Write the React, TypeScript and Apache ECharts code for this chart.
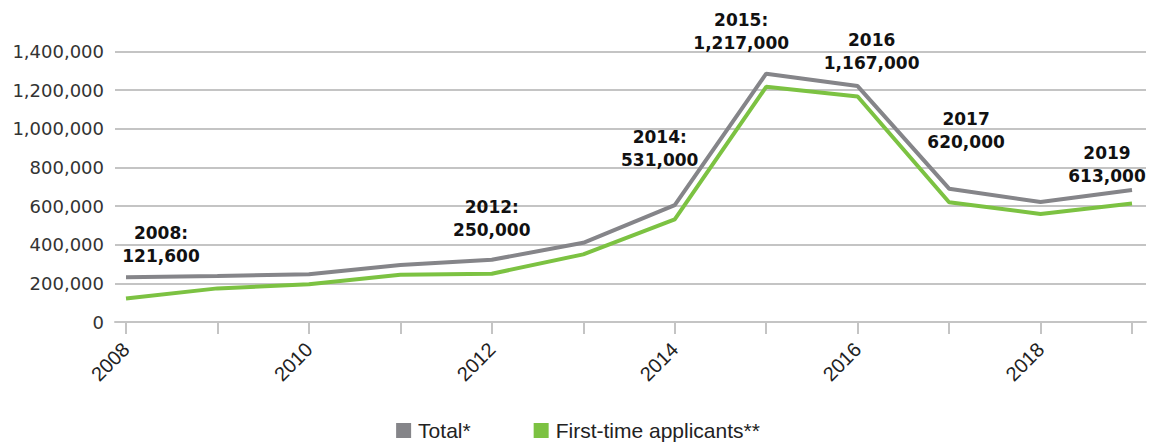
import React, { useEffect, useRef } from "react";
import * as echarts from "echarts";

const years = [2008, 2009, 2010, 2011, 2012, 2013, 2014, 2015, 2016, 2017, 2018, 2019];
const totalValues = [232000, 238000, 247000, 295000, 322000, 410000, 605000, 1285000, 1221000, 690000, 621000, 683000];
const firstTimeValues = [121600, 174000, 195000, 245000, 250000, 350000, 531000, 1217000, 1167000, 620000, 559000, 613000];
const yTicks = [0, 200000, 400000, 600000, 800000, 1000000, 1200000, 1400000];
const xTickYears = years;
const xLabelYears = [2008, 2010, 2012, 2014, 2016, 2018];
const annotationYears = [2008, 2012, 2014, 2015, 2016, 2017, 2019];
const annotationTitles = ["2008:", "2012:", "2014:", "2015:", "2016", "2017", "2019"];
// label placement offsets (layout only)
const annotationOffsets: Record<number, [number, number]> = {
  2008: [35, -54],
  2012: [0, -55],
  2014: [-15, -71],
  2015: [-25, -55],
  2016: [14, -45],
  2017: [17, -72],
  2019: [-25, -39],
};

const fmt = (v: number) => v.toLocaleString("en-US");

export default function App() {
  const ref = useRef<HTMLDivElement>(null);
  useEffect(() => {
    document.body.style.margin = "0";
    const chart = echarts.init(ref.current!, null, { renderer: "svg" });
    const greenData = years.map((y, i) => {
      const idx = annotationYears.indexOf(y);
      const item: any = { value: [y, firstTimeValues[i]] };
      if (idx >= 0) {
        item.label = {
          show: true,
          position: "inside",
          offset: annotationOffsets[y],
          formatter: annotationTitles[idx] + "\n" + fmt(firstTimeValues[i]),
        };
      }
      return item;
    });
    chart.setOption({
      animation: false,
      grid: { left: 115, right: 10, top: 51.5, bottom: 121, containLabel: false },
      legend: {
        bottom: -3,
        left: "center",
        icon: "rect",
        itemWidth: 15,
        itemHeight: 15,
        itemGap: 63,
        textStyle: { fontFamily: "Liberation Sans", fontSize: 21, color: "#222", padding: [0, 0, 0, 2] },
        data: ["Total*", "First-time applicants**"],
      },
      xAxis: {
        type: "value",
        min: 2008 - 11 / 91.46,
        max: 2019 + 14 / 91.46,
        splitLine: { show: false },
        axisLine: { show: true, lineStyle: { color: "#c4c4c4", width: 2 } },
        axisTick: {
          show: true,
          length: 12,
          customValues: xTickYears,
          lineStyle: { color: "#c4c4c4", width: 2 },
        },
        axisLabel: {
          customValues: xLabelYears,
          rotate: 45,
          margin: 24,
          fontFamily: "Liberation Sans",
          fontSize: 20,
          color: "#222",
          formatter: (v: number) => String(Math.round(v)),
        },
      },
      yAxis: {
        type: "value",
        min: 0,
        max: 1400000,
        interval: 200000,
        axisLine: { show: false },
        axisTick: { show: false },
        splitLine: { lineStyle: { color: "#c4c4c4", width: 2 } },
        axisLabel: {
          margin: 11,
          fontFamily: "DejaVu Sans",
          fontSize: 18,
          color: "#333",
          customValues: yTicks,
          formatter: (v: number) => fmt(v),
        },
      },
      series: [
        {
          name: "Total*",
          type: "line",
          data: years.map((y, i) => [y, totalValues[i]]),
          symbol: "none",
          lineStyle: { color: "#858589", width: 4 },
          itemStyle: { color: "#858589" },
          z: 2,
        },
        {
          name: "First-time applicants**",
          type: "line",
          data: greenData,
          symbol: "circle",
          symbolSize: 0,
          showSymbol: true,
          lineStyle: { color: "#7cc242", width: 4 },
          itemStyle: { color: "#7cc242" },
          label: {
            show: false,
            fontFamily: "DejaVu Sans",
            fontWeight: "bold",
            fontSize: 17,
            lineHeight: 23,
            color: "#111",
            align: "center",
            verticalAlign: "middle",
          },
          z: 3,
        },
      ],
    });
    return () => chart.dispose();
  }, []);
  return <div ref={ref} style={{ width: 1156, height: 443 }} />;
}
